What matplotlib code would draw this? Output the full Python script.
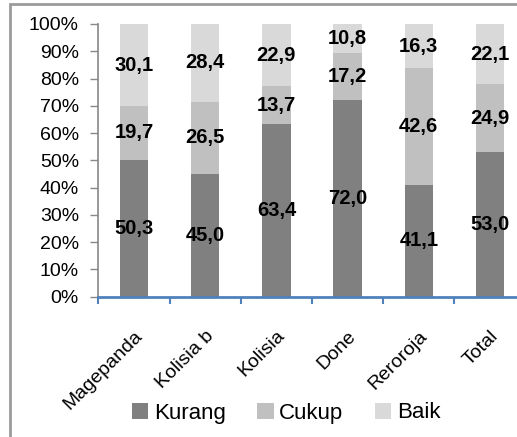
import matplotlib
matplotlib.use("Agg")
import matplotlib.pyplot as plt
from matplotlib.patches import Rectangle, Patch
import numpy as np

categories = ["Magepanda", "Kolisia b", "Kolisia", "Done", "Reroroja", "Total"]
kurang = [50.3, 45.0, 63.4, 72.0, 41.1, 53.0]
cukup = [19.7, 26.5, 13.7, 17.2, 42.6, 24.9]
baik = [30.1, 28.4, 22.9, 10.8, 16.3, 22.1]
series_names = ["Kurang", "Cukup", "Baik"]
colors = ["#808080", "#c0c0c0", "#d9d9d9"]

plt.rcParams['font.family'] = ['Liberation Sans', 'DejaVu Sans']

W, H = 517, 437
fig = plt.figure(figsize=(W / 100, H / 100), dpi=100)

# outer frame
fig.patches.append(Rectangle((9.5 / W, -0.1), 1.2, (H - 3.5) / H + 0.1,
                             transform=fig.transFigure, fill=False,
                             edgecolor="#9a9a9a", linewidth=2))

left = 98.4 / W
bottom = (H - 296.7) / H
height = (296.7 - 24) / H
width = (525.6 - 98.4) / W
ax = fig.add_axes([left, bottom, width, height])

x = np.arange(len(categories))
data = [kurang, cukup, baik]
totals = np.array(kurang) + np.array(cukup) + np.array(baik)
bottoms = np.zeros(len(categories))
for vals, name, col in zip(data, series_names, colors):
    pct = np.array(vals) / totals * 100
    ax.bar(x, pct, 0.4, bottom=bottoms, color=col, label=name, zorder=2)
    for xi, b, p, v in zip(x, bottoms, pct, vals):
        ax.text(xi, b + p / 2, f"{v:.1f}".replace(".", ","), ha="center", va="center",
                fontsize=14.5, fontweight="bold", color="black", zorder=3)
    bottoms = bottoms + pct

ax.set_xlim(-0.5, 5.5)
ax.set_ylim(0, 100)
ax.set_yticks(np.arange(0, 101, 10))
ax.set_yticklabels([f"{v}%" for v in range(0, 101, 10)], fontsize=14)
ax.tick_params(axis="y", direction="out", length=6, color="#888888", width=1, pad=8)

ax.set_xticks(x)
ax.set_xticklabels(categories, rotation=45, ha="right", rotation_mode="anchor", fontsize=14)
ax.set_xticks(np.arange(-0.5, 6, 1), minor=True)
ax.tick_params(axis="x", which="major", length=0, pad=22)
ax.tick_params(axis="x", which="minor", direction="out", length=5, color="#4f81bd", width=1.5)

for s in ["top", "right"]:
    ax.spines[s].set_visible(False)
ax.spines["left"].set_color("#888888")
ax.spines["left"].set_linewidth(1.2)
ax.spines["bottom"].set_color("#4f81bd")
ax.spines["bottom"].set_linewidth(2)
ax.spines["bottom"].set_zorder(4)

handles = [Patch(facecolor=c, edgecolor="none") for c in colors]
fig.legend(handles, series_names, loc="center", bbox_to_anchor=(286 / W, (H - 413) / H),
           ncol=3, frameon=False, fontsize=16, handlelength=0.75, handleheight=0.75,
           handletextpad=0.25, columnspacing=1.4)

fig.savefig("out.png", dpi=100)
